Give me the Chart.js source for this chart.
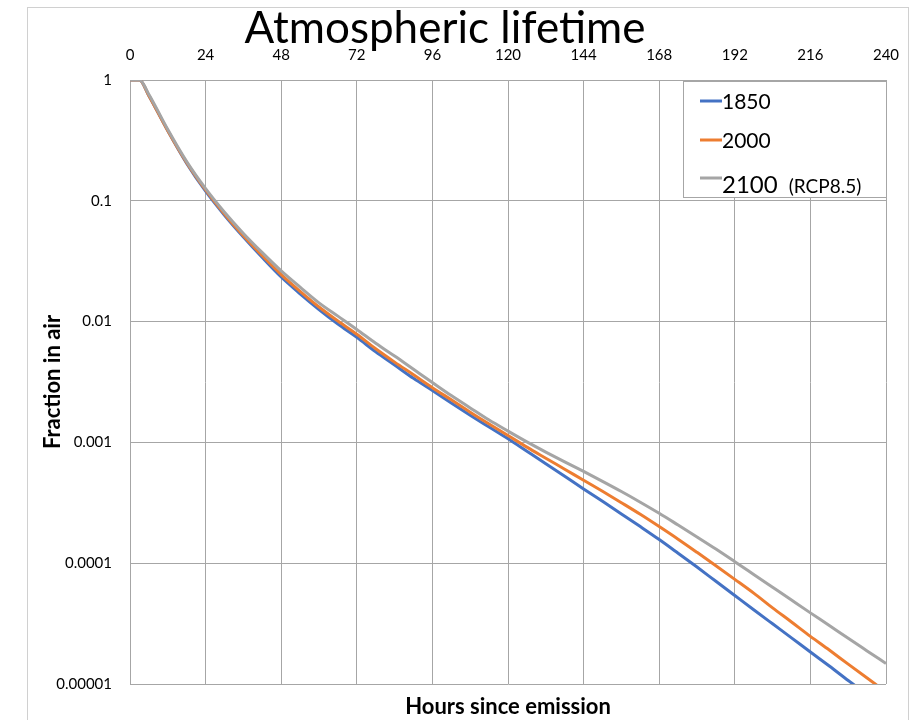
<!DOCTYPE html>
<html lang="en">
  <head>
    <meta charset="utf-8" />
    <title>Atmospheric lifetime</title>
    <style>
      body { margin: 0; background: #fff; }
      #wrap { width: 923px; height: 720px; }
    </style>
  </head>
  <body>

<div id="wrap">
  <canvas id="lifetimeChart" width="923" height="720"></canvas>
</div>

<script src="https://cdn.jsdelivr.net/npm/chart.js@4.4.1/dist/chart.umd.min.js"></script>

<script>

// hours since emission
let hours = [0, 3, 6, 12, 18, 24, 30, 36, 42, 48, 54, 60, 66, 72, 78, 84, 90, 96, 102, 108, 114, 120,
             126, 132, 138, 144, 150, 156, 162, 168, 174, 180, 186, 192, 198, 204, 210, 216, 222, 228, 234, 240]

// fraction still in air
let frac1850 = [1, 1, 0.741, 0.380, 0.204, 0.120, 0.0759, 0.0501, 0.0339, 0.0234, 0.0170, 0.0126, 0.00955, 0.00741,
                0.00562, 0.00437, 0.00339, 0.00269, 0.00212, 0.00168, 0.00134, 0.00107, 0.000845, 0.000667, 0.000525,
                0.000412, 0.000325, 0.000256, 0.000201, 0.000157, 0.000121, 0.0000929, 0.0000708, 0.0000540,
                0.0000412, 0.0000315, 0.0000241, 0.0000184, 0.0000141, 0.0000107, 0.00000820, 0.00000631]

let frac2000 = [1, 1, 0.741, 0.380, 0.207, 0.123, 0.0776, 0.0513, 0.0351, 0.0245, 0.0178, 0.0132, 0.0101, 0.00785,
                0.00596, 0.00462, 0.00363, 0.00284, 0.00225, 0.00178, 0.00142, 0.00114, 0.000914, 0.000740, 0.000600,
                0.000486, 0.000394, 0.000317, 0.000254, 0.000201, 0.000158, 0.000123, 0.0000953, 0.0000735,
                0.0000565, 0.0000427, 0.0000326, 0.0000248, 0.0000191, 0.0000146, 0.0000112, 0.00000861]

let frac2100 = [1, 1, 0.759, 0.389, 0.211, 0.126, 0.0804, 0.0537, 0.0372, 0.0263, 0.0193, 0.0143, 0.0111, 0.00861,
                0.00661, 0.00519, 0.00403, 0.00313, 0.00244, 0.00193, 0.00153, 0.00124, 0.00101, 0.000832, 0.000690,
                0.000575, 0.000476, 0.000392, 0.000320, 0.000259, 0.000207, 0.000165, 0.000131, 0.000103,
                0.0000807, 0.0000632, 0.0000495, 0.0000388, 0.0000305, 0.0000239, 0.0000188, 0.0000148]

let seriesNames = ['1850', '2000', '2100']
let seriesNotes = ['', '', '(RCP8.5)']

let yTicks = [0.00001, 0.0001, 0.001, 0.01, 0.1, 1]
let yTickLabels = ['0.00001', '0.0001', '0.001', '0.01', '0.1', '1']

let FONT = 'Lato, "Open Sans", sans-serif'

function toPoints(ys) {
  let pts = []
  for (let i = 0; i < hours.length; i++) {
    pts.push({x: hours[i], y: ys[i]})
  }
  return pts
}

// outer frame + main title
const framePlugin = {
  id: 'frame',
  beforeDraw(chart) {
    const ctx = chart.ctx
    ctx.save()
    ctx.fillStyle = '#fff'
    ctx.fillRect(0, 0, chart.width, chart.height)
    ctx.strokeStyle = '#d0d0d0'
    ctx.lineWidth = 1
    ctx.strokeRect(27.5, 7.5, 881, chart.height)
    ctx.restore()
  },
  afterDraw(chart) {
    const ctx = chart.ctx
    ctx.save()
    ctx.fillStyle = '#000'
    ctx.font = '44px ' + FONT
    ctx.textAlign = 'center'
    ctx.textBaseline = 'alphabetic'
    ctx.fillText('Atmospheric lifetime', 445, 43)
    ctx.restore()
  }
}

// legend box in the top right corner of the plot
const legendBoxPlugin = {
  id: 'legendBox',
  afterDatasetsDraw(chart) {
    const ctx = chart.ctx
    const area = chart.chartArea
    const w = 203, h = 116
    const left = area.right - w
    const top = area.top + 1
    ctx.save()
    ctx.fillStyle = '#fff'
    ctx.fillRect(left, top, w, h)
    ctx.strokeStyle = '#a6a6a6'
    ctx.lineWidth = 1
    ctx.strokeRect(left + 0.5, top + 0.5, w, h)

    const rowLine = [20, 59, 97]
    const rowText = [21, 60, 104]
    const rowSize = [21, 21, 24]
    chart.data.datasets.forEach(function (ds, i) {
      ctx.strokeStyle = ds.borderColor
      ctx.lineWidth = 3
      ctx.beginPath()
      ctx.moveTo(left + 17, top + rowLine[i])
      ctx.lineTo(left + 39, top + rowLine[i])
      ctx.stroke()
      ctx.fillStyle = '#000'
      ctx.textBaseline = 'middle'
      ctx.textAlign = 'left'
      ctx.font = rowSize[i] + 'px ' + FONT
      ctx.fillText(seriesNames[i], left + 39, top + rowText[i])
      if (seriesNotes[i]) {
        const tw = ctx.measureText(seriesNames[i]).width
        ctx.font = '19px ' + FONT
        ctx.fillText(seriesNotes[i], left + 39 + tw + 11, top + rowText[i] + 2)
      }
    })
    ctx.restore()
  }
}

let gridColor = '#a6a6a6'

let config = {
  type: 'line',
  data: {
    datasets: [
      {
        label: seriesNames[0],
        data: toPoints(frac1850),
        borderColor: '#4472C4',
        order: 2
      },
      {
        label: seriesNames[1],
        data: toPoints(frac2000),
        borderColor: '#ED7D31',
        order: 1
      },
      {
        label: seriesNames[2],
        data: toPoints(frac2100),
        borderColor: '#A5A5A5',
        order: 0
      }
    ]
  },
  options: {
    responsive: false,
    animation: false,
    devicePixelRatio: 1,
    layout: { padding: { left: 27, right: 37, top: 7, bottom: 0 } },
    elements: {
      point: { radius: 0 },
      line: { borderWidth: 3, cubicInterpolationMode: 'monotone', fill: false }
    },
    plugins: {
      legend: { display: false },
      title: { display: false },
      tooltip: { enabled: false }
    },
    scales: {
      x: {
        type: 'linear',
        position: 'top',
        min: 0,
        max: 240,
        ticks: { stepSize: 24, padding: 16, color: '#000', font: { family: FONT, size: 15 } },
        grid: { color: gridColor, lineWidth: 1, drawTicks: false },
        border: { color: gridColor },
        afterFit: function (s) { s.height = 73 }
      },
      xb: {
        type: 'linear',
        position: 'bottom',
        min: 0,
        max: 240,
        ticks: { display: false },
        grid: { display: false, drawTicks: false },
        border: { display: false },
        title: {
          display: true,
          text: 'Hours since emission',
          color: '#000',
          font: { family: FONT, size: 22, weight: 'bold' },
          padding: { top: 0, bottom: 0 }
        },
        afterFit: function (s) { s.height = 36 }
      },
      y: {
        type: 'logarithmic',
        min: 0.00001,
        max: 1,
        afterBuildTicks: function (s) {
          s.ticks = yTicks.map(function (v) { return {value: v} })
        },
        ticks: {
          padding: 18,
          color: '#000',
          font: { family: FONT, size: 15 },
          callback: function (v, i) { return yTickLabels[i] }
        },
        grid: { color: gridColor, lineWidth: 1, drawTicks: false },
        border: { color: gridColor },
        title: {
          display: true,
          text: 'Fraction in air',
          color: '#000',
          font: { family: FONT, size: 22, weight: 'bold' },
          padding: { top: 13, bottom: 0 }
        },
        afterFit: function (s) { s.width = 103 }
      }
    }
  },
  plugins: [framePlugin, legendBoxPlugin]
}

window.onload = function () {
  var ctx = document.getElementById('lifetimeChart').getContext('2d')
  window.lifetimeChart = new Chart(ctx, config)
}
</script>

  </body>
</html>
